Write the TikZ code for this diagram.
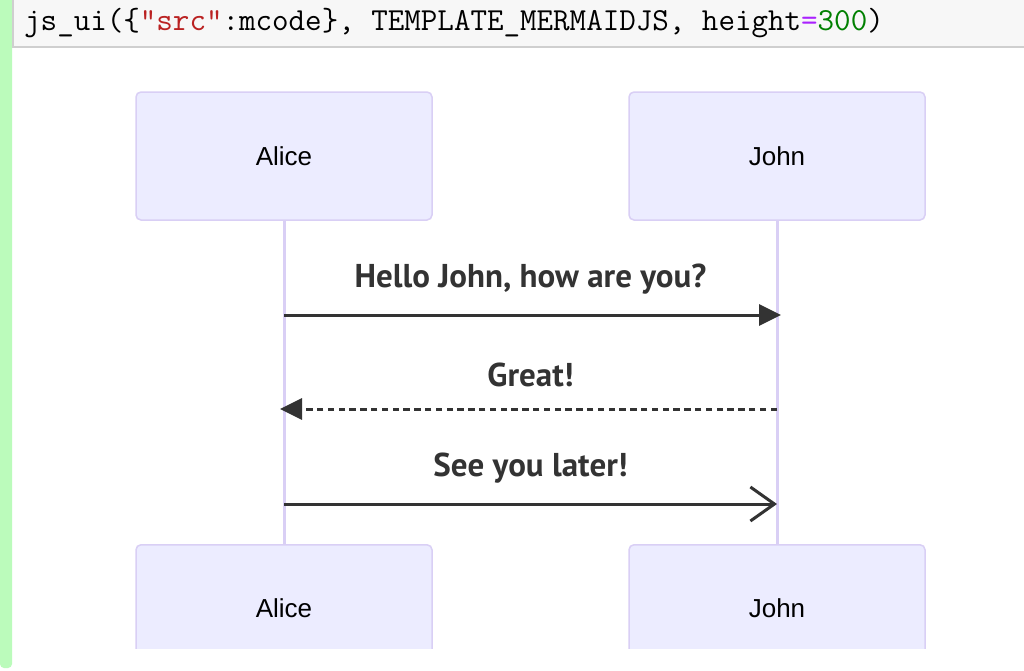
\documentclass[tikz,border=0pt]{standalone}
\usepackage{fontspec}
\setmainfont{Liberation Sans}
\newfontfamily\msgfont{PT Sans}
\usetikzlibrary{arrows.meta}
\definecolor{actfill}{HTML}{ECECFF}
\definecolor{actline}{HTML}{D9CFF5}
\definecolor{msgcol}{HTML}{333333}
\definecolor{cellbg}{HTML}{F7F7F7}
\definecolor{cellline}{HTML}{CFCFCF}
\definecolor{greenbar}{HTML}{BBFBBB}
\definecolor{strred}{HTML}{BA2121}
\definecolor{oppurple}{HTML}{AA22FF}
\definecolor{numgreen}{HTML}{008000}
\tikzset{
  actor/.style={draw=actline, line width=1.5pt, fill=actfill, rounded corners=5pt,
    minimum width=296pt, minimum height=128pt, inner sep=0pt,
    font=\fontsize{26}{30}\selectfont},
  lifeline/.style={draw=actline, line width=3pt},
  msg/.style={draw=msgcol, line width=3pt},
  msglabel/.style={text=msgcol, inner sep=0pt, font=\msgfont\bfseries\fontsize{33}{38}\selectfont},
  filledhead/.style={-{Triangle[length=22pt,width=21pt]}},
  openhead/.style={-{Straight Barb[length=24pt,width=34pt,line width=3pt]}}
}
\begin{document}
\begin{tikzpicture}[x=1pt,y=1pt]
\useasboundingbox (0,0) rectangle (1024,-670);
\fill[white] (0,0) rectangle (1024,-670);
% green bar
\fill[greenbar, rounded corners=4pt] (0,10) rectangle (12,-668);
% code cell
\fill[cellbg] (13,5) rectangle (1030,-47);
\draw[cellline, line width=1.5pt] (13,5) -- (13,-47) -- (1030,-47);
\node[anchor=base west, inner sep=0pt, font=\ttfamily\addfontfeature{FakeBold=0.4}\fontsize{32.1}{35}\selectfont] (code) at (24,-30)
  {js\_ui(\{\textcolor{strred}{"src"}:mcode\}, TEMPLATE\_MERMAIDJS, height\textcolor{oppurple}{=}\textcolor{numgreen}{300})};
% lifelines
\coordinate (at) at (284,-220);
\coordinate (ab) at (284,-544);
\coordinate (jt) at (777,-220);
\coordinate (jb) at (777,-544);
\draw[lifeline] (at) -- (ab);
\draw[lifeline] (jt) -- (jb);
% actors
\node[actor] (alicetop) at (284,-156) {Alice};
\node[actor] (johntop) at (777,-156) {John};
\begin{scope}
\clip (0,-530) rectangle (1024,-648);
\node[actor, anchor=north] (alicebot) at (284,-544) {};
\node[actor, anchor=north] (johnbot) at (777,-544) {};
\end{scope}
\node[font=\fontsize{26}{30}\selectfont] (alicebotlabel) at (284,-608) {Alice};
\node[font=\fontsize{26}{30}\selectfont] (johnbotlabel) at (777,-608) {John};
% messages
\coordinate (m1a) at (284,-315);
\coordinate (m1j) at (781,-315);
\coordinate (m2j) at (777,-409);
\coordinate (m2a) at (280,-409);
\coordinate (m3a) at (284,-504);
\coordinate (m3j) at (777,-504);
\draw[msg, filledhead] (m1a) -- (m1j);
\draw[msg, filledhead, dash pattern=on 6.5pt off 4.3pt] (m2j) -- (m2a);
\draw[msg, openhead] (m3a) -- (m3j);
\node[msglabel] (l1) at (530.5,-279) {Hello John, how are you?};
\node[msglabel] (l2) at (530.5,-375) {Great!};
\node[msglabel] (l3) at (530.5,-468) {See you later!};
\end{tikzpicture}
\end{document}
